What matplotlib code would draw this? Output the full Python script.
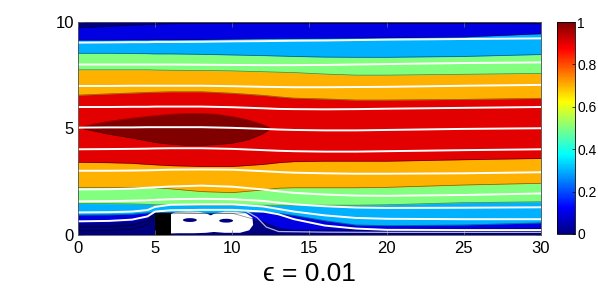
import numpy as np
import matplotlib
matplotlib.use("Agg")
import matplotlib.pyplot as plt
from matplotlib.colors import LinearSegmentedColormap, Normalize
from matplotlib.cm import ScalarMappable
from matplotlib.patches import Ellipse

plt.rcParams['font.family'] = ['Liberation Sans', 'DejaVu Sans']

xs = [0, 2, 3.5, 4.5, 5, 6, 8, 10, 12, 13, 14, 16, 18, 20, 25, 30]

# band edges (level crossings), lower half then upper half
b01 = [0.53, 0.55, 0.6, 0.75, 1.0, 1.0, 1.0, 1.0, 0.6, 0.3, 0.2, 0.22, 0.24, 0.24, 0.25, 0.28]
b03 = [0.92, 0.93, 0.96, 1.02, 1.05, 1.03, 1.0, 1.0, 1.05, 1.0, 0.9, 0.65, 0.45, 0.42, 0.45, 0.55]
b05 = [1.46, 1.45, 1.44, 1.42, 1.40, 1.39, 1.38, 1.38, 1.38, 1.38, 1.38, 1.38, 1.38, 1.40, 1.50, 1.54]
b07 = [2.22, 2.22, 2.22, 2.21, 2.2, 2.15, 2.02, 1.97, 2.1, 2.18, 2.2, 2.2, 2.2, 2.22, 2.33, 2.41]
b09 = [3.40, 3.38, 3.35, 3.3, 3.28, 3.24, 3.2, 3.2, 3.3, 3.38, 3.43, 3.45, 3.45, 3.45, 3.52, 3.58]
t09 = [6.56, 6.62, 6.66, 6.69, 6.7, 6.72, 6.72, 6.65, 6.55, 6.48, 6.42, 6.38, 6.33, 6.33, 6.36, 6.41]
t07 = [7.75, 7.75, 7.75, 7.75, 7.74, 7.73, 7.72, 7.7, 7.66, 7.64, 7.62, 7.55, 7.5, 7.5, 7.54, 7.58]
t05 = [8.53, 8.53, 8.52, 8.51, 8.5, 8.5, 8.48, 8.45, 8.42, 8.4, 8.38, 8.35, 8.34, 8.34, 8.38, 8.47]
t03 = [9.15, 9.15, 9.16, 9.16, 9.17, 9.17, 9.18, 9.2, 9.22, 9.23, 9.23, 9.24, 9.25, 9.26, 9.3, 9.45]
t01 = [9.72, 9.8, 9.85, 9.88, 9.9, 9.92, 9.94, 9.94, 9.94, 9.94, 9.94, 9.94, 9.94, 9.94, 9.93, 9.92]

# dark red core
lens_x = [0, 1, 2, 3, 4, 5, 6, 7, 8, 9, 10, 11, 12, 12.5]
lens_top = [5.03, 5.2, 5.33, 5.43, 5.52, 5.6, 5.66, 5.7, 5.7, 5.66, 5.55, 5.4, 5.17, 5.0]
lens_bot = [5.03, 4.87, 4.72, 4.6, 4.47, 4.33, 4.25, 4.2, 4.2, 4.23, 4.3, 4.45, 4.75, 5.0]

# streamlines at the xs stations
streams = [
    [9.03, 9.04, 9.05, 9.05, 9.06, 9.06, 9.07, 9.09, 9.1, 9.11, 9.12, 9.13, 9.15, 9.17, 9.2, 9.23],
    [8.0, 8.0, 8.0, 8.0, 8.0, 8.0, 7.99, 7.98, 7.97, 7.97, 7.97, 7.98, 8.0, 8.02, 8.07, 8.1],
    [6.99, 6.99, 7.0, 7.0, 7.0, 7.0, 7.0, 6.98, 6.95, 6.94, 6.93, 6.93, 6.94, 6.95, 7.0, 7.04],
    [6.0, 6.0, 6.01, 6.01, 6.02, 6.02, 6.02, 5.99, 5.94, 5.91, 5.9, 5.89, 5.9, 5.92, 5.96, 6.0],
    [5.03, 5.04, 5.04, 5.05, 5.05, 5.05, 5.05, 5.02, 4.97, 4.94, 4.92, 4.9, 4.9, 4.92, 4.97, 5.0],
    [4.01, 4.02, 4.03, 4.04, 4.05, 4.06, 4.06, 4.03, 3.97, 3.94, 3.92, 3.9, 3.9, 3.92, 3.97, 4.01],
    [3.0, 3.0, 3.01, 3.02, 3.03, 3.05, 3.06, 3.05, 2.98, 2.94, 2.91, 2.88, 2.86, 2.86, 2.88, 2.93],
    [2.12, 2.13, 2.16, 2.2, 2.22, 2.26, 2.3, 2.25, 2.12, 2.03, 1.96, 1.88, 1.83, 1.82, 1.86, 1.93],
    [1.56, 1.57, 1.59, 1.61, 1.63, 1.66, 1.68, 1.66, 1.58, 1.5, 1.42, 1.33, 1.27, 1.25, 1.26, 1.28],
    [1.04, 1.05, 1.08, 1.15, 1.3, 1.4, 1.42, 1.42, 1.32, 1.2, 1.08, 0.9, 0.78, 0.74, 0.72, 0.72],
    [0.62, 0.64, 0.7, 0.85, 1.08, 1.14, 1.16, 1.16, 1.08, 0.95, 0.72, 0.42, 0.28, 0.22, 0.21, 0.21],
]
tail_x = [11.0, 11.6, 12.2, 13, 16, 20, 25, 30]
tail_y = [1.05, 0.8, 0.35, 0.14, 0.11, 0.1, 0.1, 0.1]

# faint contour lines in the slow layer left of the step
slow_x = [0, 2, 3.5, 4.5, 5]
slow1 = [0.35, 0.37, 0.43, 0.65, 1.0]
slow2 = [0.18, 0.2, 0.25, 0.45, 0.9]

# step and recirculation bubble
step_x = [5, 6]
step_y = [0, 1]
blob_x = [6.0, 6.0, 6.3, 7.0, 7.8, 8.3, 8.6, 8.9, 9.5, 10.3, 10.9, 11.3, 11.35, 11.1, 10.5, 9.5, 8.8, 8.3, 7.5, 6.5, 6.0]
blob_y = [0.05, 0.95, 1.05, 1.08, 1.07, 1.0, 0.9, 1.0, 1.07, 1.07, 1.0, 0.8, 0.45, 0.2, 0.08, 0.08, 0.12, 0.08, 0.06, 0.06, 0.05]
eye_x = [7.25, 9.6]
eye_y = [0.68, 0.65]

# MATLAB style jet
jet = LinearSegmentedColormap.from_list('mjet', [
    (0.0, (0, 0, 0.5)), (0.125, (0, 0, 1)), (0.375, (0, 1, 1)),
    (0.625, (1, 1, 0)), (0.875, (1, 0, 0)), (1.0, (0.5, 0, 0))])

fig = plt.figure(figsize=(5.98, 2.99), dpi=100)
ax = fig.add_axes([0.1304, 0.2157, 0.7742, 0.7107])
ax.set_facecolor(jet(0.0))

bands = [(b01, t01, 0.1), (b03, t03, 0.3), (b05, t05, 0.5), (b07, t07, 0.7), (b09, t09, 0.9)]
for lo, hi, v in bands:
    ax.fill_between(xs, lo, hi, color=jet(v), lw=0)
ax.fill_between(lens_x, lens_bot, lens_top, color=jet(1.0), lw=0)

for lo, hi, v in bands:
    ax.plot(xs, lo, color='k', lw=0.5, alpha=0.5)
    ax.plot(xs, hi, color='k', lw=0.5, alpha=0.5)
ax.plot(lens_x, lens_top, color='k', lw=0.4, alpha=0.4)
ax.plot(lens_x, lens_bot, color='k', lw=0.4, alpha=0.4)
ax.plot(slow_x, slow1, color='k', lw=0.6, alpha=0.6)
ax.plot(slow_x, slow2, color='k', lw=0.6, alpha=0.6)

for s in streams:
    ax.plot(xs, s, color='white', lw=1.4)
ax.plot(tail_x, tail_y, color='white', lw=0.9, alpha=0.7)

ax.fill(blob_x, blob_y, color='white', lw=0)
for ex, ey in zip(eye_x, eye_y):
    ax.add_patch(Ellipse((ex, ey), 0.9, 0.18, color=jet(0.0), lw=0))
ax.fill_between(step_x, step_y[0], step_y[1], color='black', lw=0)

ax.set_xlim(0, 30)
ax.set_ylim(0, 10)
ax.set_xticks(range(0, 31, 5))
ax.set_yticks([0, 5, 10])
ax.tick_params(direction='in', length=3.5, width=0.5, color='0.45', labelsize=12,
               top=True, right=True)
ax.tick_params(axis='x', pad=5)
ax.tick_params(axis='y', pad=3)
for sp in ax.spines.values():
    sp.set_linewidth(0.6)
    sp.set_color('0.35')
ax.set_xlabel('ϵ = 0.01', fontsize=19, labelpad=4)

cax = fig.add_axes([0.9314, 0.2174, 0.0301, 0.7090])
sm = ScalarMappable(norm=Normalize(0, 1), cmap=jet)
cb = fig.colorbar(sm, cax=cax, ticks=[0, 0.2, 0.4, 0.6, 0.8, 1])
cb.ax.set_yticklabels(['0', '0.2', '0.4', '0.6', '0.8', '1'])
cb.ax.tick_params(direction='in', length=2, width=0.5, labelsize=10, pad=1.5)
cb.outline.set_linewidth(0.6)

fig.savefig('out.png', dpi=100)
